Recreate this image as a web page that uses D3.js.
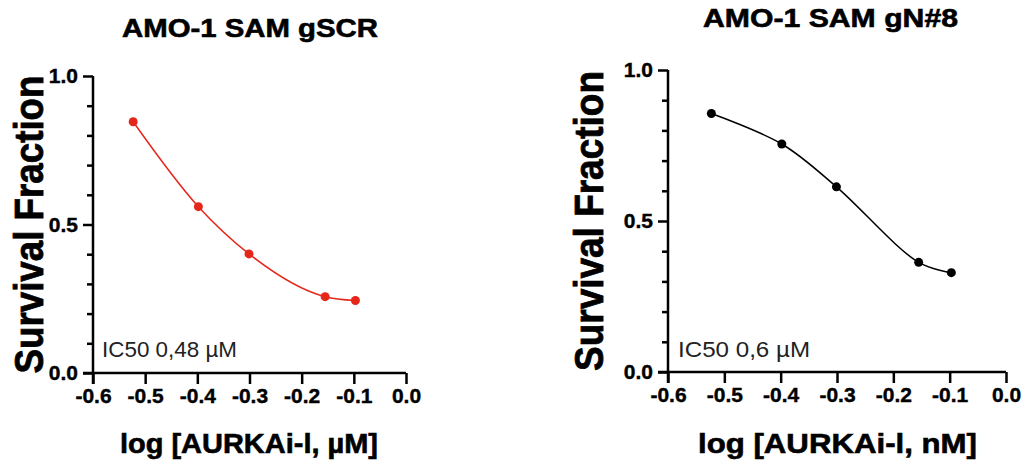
<!DOCTYPE html>
<html>
<head>
<meta charset="utf-8">
<script src="https://cdn.jsdelivr.net/npm/d3@7"></script>
<style>
  body { margin: 0; background: #fff; }
  text { font-family: "Liberation Sans", Arial, sans-serif; }
  .tick text { font-size: 21px; font-weight: bold; }
</style>
</head>
<body>
<div id="chart"></div>
<script>
// log dose (log10 of 0.3, 0.4, 0.5, 0.7, 0.8)
var logDose = [-0.523, -0.398, -0.301, -0.155, -0.097];
var survScr = [0.846, 0.560, 0.401, 0.257, 0.244];
var survN8 = [0.856, 0.755, 0.613, 0.363, 0.329];
var xTicks = [-0.6, -0.5, -0.4, -0.3, -0.2, -0.1, 0.0];
var yMajor = [0, 0.5, 1.0];
var yMinor = [0.1, 0.2, 0.3, 0.4, 0.6, 0.7, 0.8, 0.9];

var svg = d3.select("#chart").append("svg")
    .attr("width", 1031)
    .attr("height", 465);

var panels = [
    {
        title: "AMO-1 SAM gSCR", xlab: "log [AURKAi-l, \u00b5M]", ic50: "IC50 0,48 \u00b5M",
        values: survScr, color: "#e5261b", curve: d3.curveMonotoneX,
        x0: 93, x1: 406, y0: 373, y1: 76,
        titleX: 122, titleY: 37, titleLen: 256,
        ylabX: 43, ylabLen: 298,
        xlabX: 120, xlabLen: 258,
        icX: 102, icLen: 135
    },
    {
        title: "AMO-1 SAM gN#8", xlab: "log [AURKAi-l, nM]", ic50: "IC50 0,6 \u00b5M",
        values: survN8, color: "#000", curve: d3.curveCatmullRom.alpha(0.5),
        x0: 668, x1: 1006, y0: 372, y1: 70,
        titleX: 703, titleY: 27, titleLen: 255,
        ylabX: 603, ylabLen: 300,
        xlabX: 698, xlabLen: 279,
        icX: 678, icLen: 132
    }
];

panels.forEach(function(p) {
    var x = d3.scaleLinear().domain([-0.6, 0]).range([p.x0, p.x1]);
    var y = d3.scaleLinear().domain([0, 1]).range([p.y0, p.y1]);
    var g = svg.append("g");

    // x axis
    var xAxis = g.append("g")
        .attr("transform", "translate(0," + p.y0 + ")")
        .call(d3.axisBottom(x).tickValues(xTicks).tickSize(11).tickPadding(4)
            .tickFormat(function(d) { return d.toFixed(1); }));
    // y axis (major)
    var yAxis = g.append("g")
        .attr("transform", "translate(" + p.x0 + ",0)")
        .call(d3.axisLeft(y).tickValues(yMajor).tickSize(10).tickPadding(5)
            .tickFormat(function(d) { return d.toFixed(1); }));
    // y minor ticks
    g.append("g")
        .attr("transform", "translate(" + p.x0 + ",0)")
        .call(d3.axisLeft(y).tickValues(yMinor).tickSize(6).tickFormat(""))
        .select(".domain").remove();

    g.selectAll(".domain").attr("stroke", "#000").attr("stroke-width", 2.5);
    g.selectAll(".tick line").attr("stroke", "#000").attr("stroke-width", 2.5);
    g.selectAll(".tick text").attr("fill", "#000").attr("stroke", "#000").attr("stroke-width", 0.4);
    xAxis.selectAll(".domain").attr("d", "M" + (p.x0 - 10) + ",0H" + p.x1);
    yAxis.selectAll(".domain").attr("d", "M0," + (p.y0 + 11) + "V" + p.y1);

    // curve through points
    var pts = logDose.map(function(d, i) { return [d, p.values[i]]; });
    var line = d3.line()
        .x(function(d) { return x(d[0]); })
        .y(function(d) { return y(d[1]); })
        .curve(p.curve);
    g.append("path")
        .datum(pts)
        .attr("fill", "none")
        .attr("stroke", p.color)
        .attr("stroke-width", 1.5)
        .attr("d", line);
    g.selectAll("circle.pt")
        .data(pts)
        .enter().append("circle")
        .attr("class", "pt")
        .attr("cx", function(d) { return x(d[0]); })
        .attr("cy", function(d) { return y(d[1]); })
        .attr("r", 4.5)
        .attr("fill", p.color);

    // titles and labels
    g.append("text")
        .attr("x", p.titleX).attr("y", p.titleY)
        .attr("textLength", p.titleLen).attr("lengthAdjust", "spacingAndGlyphs")
        .attr("stroke", "#000").attr("stroke-width", 0.6)
        .style("font-size", "26px").style("font-weight", "bold")
        .text(p.title);
    g.append("text")
        .attr("transform", "translate(" + p.ylabX + "," + ((p.y0 + p.y1) / 2) + ") rotate(-90)")
        .attr("text-anchor", "middle")
        .attr("textLength", p.ylabLen).attr("lengthAdjust", "spacingAndGlyphs")
        .attr("stroke", "#000").attr("stroke-width", 0.8)
        .style("font-size", "41px").style("font-weight", "bold")
        .text("Survival Fraction");
    g.append("text")
        .attr("x", p.xlabX).attr("y", 453)
        .attr("textLength", p.xlabLen).attr("lengthAdjust", "spacingAndGlyphs")
        .attr("stroke", "#000").attr("stroke-width", 0.6)
        .style("font-size", "27px").style("font-weight", "bold")
        .text(p.xlab);
    g.append("text")
        .attr("x", p.icX).attr("y", 357)
        .attr("textLength", p.icLen).attr("lengthAdjust", "spacingAndGlyphs")
        .attr("fill", "#222")
        .style("font-size", "22px")
        .text(p.ic50);
});
</script>
</body>
</html>
